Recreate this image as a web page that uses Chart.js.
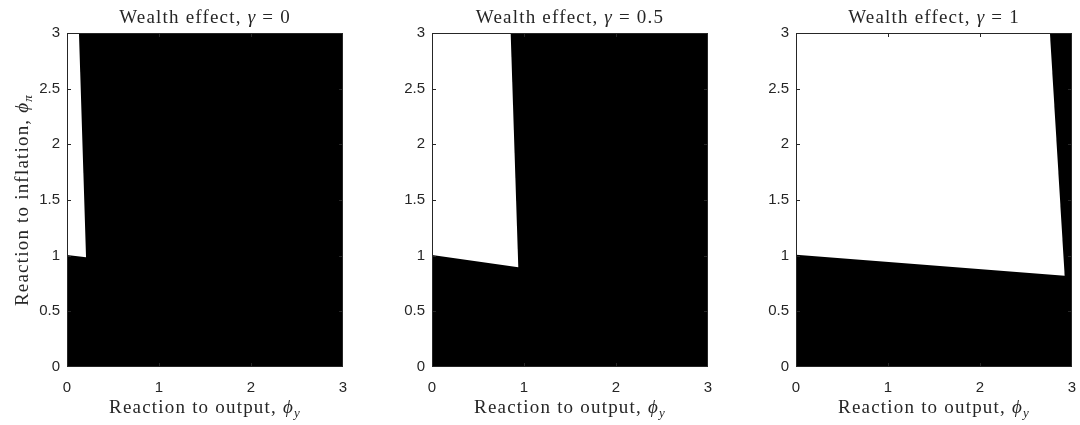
<!DOCTYPE html>
<html>
<head>
<meta charset="utf-8">
<script src="https://cdn.jsdelivr.net/npm/chart.js@4/dist/chart.umd.min.js"></script>
<style>
  html, body { margin: 0; padding: 0; background: #fff; }
  #wrap { position: relative; width: 1080px; height: 425px; }
  #wrap canvas { position: absolute; top: 0; }
</style>
</head>
<body>
<div id="wrap">
  <canvas id="p0" width="360" height="425" style="left:0px"></canvas>
  <canvas id="p1" width="360" height="425" style="left:360px"></canvas>
  <canvas id="p2" width="360" height="425" style="left:720px"></canvas>
</div>
<script>
const gammaLabels = ['0', '0.5', '1'];
const xTickValues = [0, 1, 2, 3];
const yTickValues = [0, 0.5, 1, 1.5, 2, 2.5, 3];

// corners of the white (determinate) region, phi_y / phi_pi, one list per panel
const regionPhiY = [
  [0, 0.13, 0.207, 0],
  [0, 0.855, 0.938, 0],
  [0, 2.76, 2.92, 0]
];
const regionPhiPi = [
  [3, 3, 0.985, 1.005],
  [3, 3, 0.897, 1.005],
  [3, 3, 0.82, 1.008]
];

// whole parameter box, drawn black underneath
const boxPhiY = [0, 3, 3, 0];
const boxPhiPi = [0, 0, 3, 3];

const AXIS_COLOR = '#262626';
const SERIF = '"Liberation Serif", serif';
const SANS = '"Liberation Sans", Arial, sans-serif';

// left/right padding per panel so the three plot boxes line up
const padLeft = [27, 32, 36];
const padRight = [17, 12, 8];

function toPoints(xs, ys) {
  return xs.map((x, i) => ({ x: x, y: ys[i] }));
}

// draw a run of text pieces: '' upright, 'i' italic, 'sub' italic subscript
function richText(ctx, parts, cx, y, size) {
  const fontFor = (s) => {
    if (s === 'sub') return 'italic ' + Math.round(size * 0.7) + 'px ' + SERIF;
    if (s === 'i') return 'italic ' + size + 'px ' + SERIF;
    return size + 'px ' + SERIF;
  };
  ctx.letterSpacing = '1.2px';
  let total = 0;
  const widths = parts.map(([t, s]) => {
    ctx.font = fontFor(s);
    const w = ctx.measureText(t).width;
    total += w;
    return w;
  });
  let x = cx - total / 2;
  ctx.textAlign = 'left';
  ctx.textBaseline = 'alphabetic';
  ctx.fillStyle = AXIS_COLOR;
  parts.forEach(([t, s], i) => {
    ctx.font = fontFor(s);
    ctx.fillText(t, x, s === 'sub' ? y + size * 0.22 : y);
    x += widths[i];
  });
  ctx.letterSpacing = '0px';
}

// box around the plot with inward ticks on all four sides
const framePlugin = {
  id: 'frame',
  afterDatasetsDraw(chart) {
    const { ctx, chartArea: a, scales } = chart;
    const tl = 3.5;
    const l = a.left + 0.5, r = a.right - 0.5, t = a.top + 0.5, b = a.bottom - 0.5;
    const clamp = (v, lo, hi) => Math.min(hi, Math.max(lo, v));
    ctx.save();
    ctx.strokeStyle = AXIS_COLOR;
    ctx.lineWidth = 1;
    ctx.beginPath();
    xTickValues.forEach(v => {
      const px = clamp(Math.round(scales.x.getPixelForValue(v)) + 0.5, l, r);
      ctx.moveTo(px, b); ctx.lineTo(px, b - tl);
      ctx.moveTo(px, t); ctx.lineTo(px, t + tl);
    });
    yTickValues.forEach(v => {
      const py = clamp(Math.round(scales.y.getPixelForValue(v)) + 0.5, t, b);
      ctx.moveTo(l, py); ctx.lineTo(l + tl, py);
      ctx.moveTo(r, py); ctx.lineTo(r - tl, py);
    });
    ctx.stroke();
    ctx.strokeRect(l, t, r - l, b - t);
    ctx.restore();
  },
  afterDraw(chart, args, opts) {
    const { ctx, chartArea: a } = chart;
    const cx = (a.left + a.right) / 2;
    ctx.save();
    richText(ctx, [['Wealth effect, ', ''], ['γ', 'i'], [' = ' + opts.gamma, '']], cx, a.top - 10, 19);
    richText(ctx, [['Reaction to output, ', ''], ['ϕ', 'i'], ['y', 'sub']], cx, a.bottom + 46, 19);
    if (opts.yTitle) {
      ctx.translate(a.left - 39, (a.top + a.bottom) / 2);
      ctx.rotate(-Math.PI / 2);
      richText(ctx, [['Reaction to inflation, ', ''], ['ϕ', 'i'], ['π', 'sub']], 0, 0, 19);
    }
    ctx.restore();
  }
};

gammaLabels.forEach((g, k) => {
  new Chart(document.getElementById('p' + k), {
    type: 'line',
    data: {
      datasets: [{
        data: toPoints(regionPhiY[k], regionPhiPi[k]),
        backgroundColor: '#ffffff',
        borderWidth: 0,
        pointRadius: 0,
        fill: 'shape',
        order: 1
      }, {
        data: toPoints(boxPhiY, boxPhiPi),
        backgroundColor: '#000000',
        borderWidth: 0,
        pointRadius: 0,
        fill: 'shape',
        order: 2
      }]
    },
    options: {
      responsive: false,
      animation: false,
      events: [],
      layout: { padding: { left: padLeft[k], right: padRight[k], top: 33, bottom: 28 } },
      plugins: {
        legend: { display: false },
        tooltip: { enabled: false },
        frame: { gamma: g, yTitle: k === 0 }
      },
      scales: {
        x: {
          type: 'linear',
          min: 0, max: 3,
          grid: { display: false, drawTicks: false },
          border: { display: false },
          afterBuildTicks: s => { s.ticks = xTickValues.map(v => ({ value: v })); },
          afterFit: s => { s.height = 30; s.paddingLeft = 0; s.paddingRight = 0; },
          ticks: {
            padding: 12,
            color: AXIS_COLOR,
            font: { family: SANS, size: 15 },
            maxRotation: 0,
            callback: v => String(v)
          }
        },
        y: {
          type: 'linear',
          min: 0, max: 3,
          grid: { display: false, drawTicks: false },
          border: { display: false },
          afterBuildTicks: s => { s.ticks = yTickValues.map(v => ({ value: v })); },
          afterFit: s => { s.width = 40; s.paddingTop = 0; s.paddingBottom = 0; },
          ticks: {
            padding: 7,
            color: AXIS_COLOR,
            font: { family: SANS, size: 15 },
            callback: v => String(v)
          }
        }
      }
    },
    plugins: [framePlugin]
  });
});
</script>
</body>
</html>
